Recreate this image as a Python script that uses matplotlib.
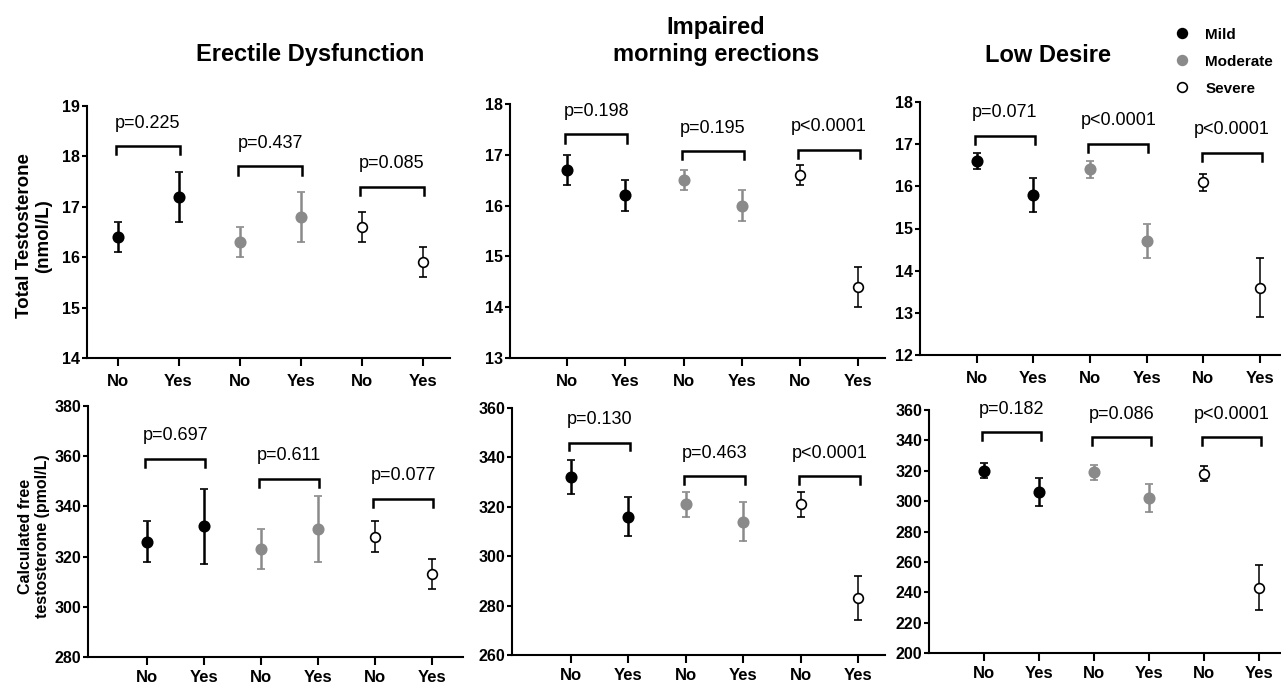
import matplotlib.pyplot as plt
from matplotlib.lines import Line2D

plt.rcParams['font.family'] = ['Liberation Sans', 'DejaVu Sans']

# Severity groups, each with a No / Yes pair
groups = ["Mild", "Moderate", "Severe"]
xlabels = ["No", "Yes", "No", "Yes", "No", "Yes"]
titles = ["Erectile Dysfunction", "Impaired\nmorning erections", "Low Desire"]

# Total testosterone (nmol/L): mean, lower, upper for No/Yes per group
tt_mean = [
    [16.4, 17.2, 16.3, 16.8, 16.6, 15.9],
    [16.7, 16.2, 16.5, 16.0, 16.6, 14.4],
    [16.6, 15.8, 16.4, 14.7, 16.1, 13.6],
]
tt_lo = [
    [16.1, 16.7, 16.0, 16.3, 16.3, 15.6],
    [16.4, 15.9, 16.3, 15.7, 16.4, 14.0],
    [16.4, 15.4, 16.2, 14.3, 15.9, 12.9],
]
tt_hi = [
    [16.7, 17.7, 16.6, 17.3, 16.9, 16.2],
    [17.0, 16.5, 16.7, 16.3, 16.8, 14.8],
    [16.8, 16.2, 16.6, 15.1, 16.3, 14.3],
]
tt_p = [
    ["p=0.225", "p=0.437", "p=0.085"],
    ["p=0.198", "p=0.195", "p<0.0001"],
    ["p=0.071", "p<0.0001", "p<0.0001"],
]
tt_bracket = [
    [18.2, 17.8, 17.4],
    [17.4, 17.07, 17.1],
    [17.2, 17.0, 16.8],
]
tt_ylim = [(14, 19), (13, 18), (12, 18)]

# Calculated free testosterone (pmol/L)
ft_mean = [
    [326, 332, 323, 331, 328, 313],
    [332, 316, 321, 314, 321, 283],
    [320, 306, 319, 302, 318, 243],
]
ft_lo = [
    [318, 317, 315, 318, 322, 307],
    [325, 308, 316, 306, 316, 274],
    [315, 297, 314, 293, 313, 228],
]
ft_hi = [
    [334, 347, 331, 344, 334, 319],
    [339, 324, 326, 322, 326, 292],
    [325, 315, 324, 311, 323, 258],
]
ft_p = [
    ["p=0.697", "p=0.611", "p=0.077"],
    ["p=0.130", "p=0.463", "p<0.0001"],
    ["p=0.182", "p=0.086", "p<0.0001"],
]
ft_bracket = [
    [359, 351, 343],
    [346, 332.5, 332.5],
    [345.5, 342, 342],
]
ft_ylim = [(280, 380), (260, 360), (200, 360)]

# Panel boxes in pixels: left, right, top, bottom ; xlim
W, H = 1281, 685
top_boxes = [(87, 450, 106, 358, (0.5, 6.45)),
             (510, 885, 104, 358, (0.02, 6.46)),
             (920, 1281, 102, 355, (0.0, 6.37))]
bot_boxes = [(88, 463, 406, 657, (-0.03, 6.55)),
             (512, 885, 408, 655, (-0.03, 6.47)),
             (929, 1281, 410, 653, (0.0, 6.4))]

colors = ["black", "#8a8a8a", "black"]
faces = ["black", "#8a8a8a", "white"]
lws = [1.8, 1.8, 1.1]

fig = plt.figure(figsize=(W / 100, H / 100), dpi=100)


def make_axes(box):
    l, r, t, b, xl = box
    ax = fig.add_axes([l / W, 1 - b / H, (r - l) / W, (b - t) / H])
    ax.set_xlim(*xl)
    return ax


def draw_panel(ax, mean, lo, hi, pvals, brackets, ylim, yticks, xpad):
    xs = list(range(1, 7))
    for g in range(3):
        for k in range(2):
            i = 2 * g + k
            ax.errorbar(xs[i], mean[i],
                        yerr=[[mean[i] - lo[i]], [hi[i] - mean[i]]],
                        fmt="o", color=colors[g], mfc=faces[g], mec=colors[g],
                        ms=7.5 if g < 2 else 7, mew=1.2, elinewidth=lws[g],
                        capsize=3, capthick=lws[g], zorder=3)
        x0, x1 = xs[2 * g] - 0.03, xs[2 * g + 1] + 0.03
        yb = brackets[g]
        drop = (ylim[1] - ylim[0]) * 0.032
        ax.plot([x0, x0, x1, x1], [yb - drop, yb, yb, yb - drop],
                color="black", lw=1.8, solid_joinstyle="miter")
        ax.text((x0 + x1) / 2, yb + (ylim[1] - ylim[0]) * 0.058, pvals[g],
                ha="center", va="bottom", fontsize=13)
    ax.set_ylim(*ylim)
    ax.set_yticks(yticks)
    ax.set_xticks(xs)
    ax.set_xticklabels(xlabels)
    ax.spines["top"].set_visible(False)
    ax.spines["right"].set_visible(False)
    ax.spines["left"].set_linewidth(1.5)
    ax.spines["bottom"].set_linewidth(1.5)
    ax.tick_params(axis="x", length=6, width=1.5, pad=xpad, labelsize=12)
    ax.tick_params(axis="y", length=3.5, width=1.5, pad=1.5, labelsize=11.5)
    for lab in ax.get_xticklabels() + ax.get_yticklabels():
        lab.set_fontweight("bold")


for c in range(3):
    ax = make_axes(top_boxes[c])
    lo_, hi_ = tt_ylim[c]
    draw_panel(ax, tt_mean[c], tt_lo[c], tt_hi[c], tt_p[c], tt_bracket[c],
               tt_ylim[c], range(lo_, hi_ + 1), 5.5)
    ax = make_axes(bot_boxes[c])
    lo_, hi_ = ft_ylim[c]
    draw_panel(ax, ft_mean[c], ft_lo[c], ft_hi[c], ft_p[c], ft_bracket[c],
               ft_ylim[c], range(lo_, hi_ + 1, 20), 3.5)

# Column titles
fig.text(310 / W, 1 - 55 / H, titles[0], ha="center", va="center",
         fontsize=17, fontweight="bold")
fig.text(716 / W, 1 - 41 / H, titles[1], ha="center", va="center",
         fontsize=17, fontweight="bold", linespacing=1.18)
fig.text(1048 / W, 1 - 55 / H, titles[2], ha="center", va="center",
         fontsize=17, fontweight="bold")

# Row labels
fig.text(34 / W, 1 - 236 / H, "Total Testosterone\n(nmol/L)", rotation=90,
         ha="center", va="center", fontsize=13.5, fontweight="bold",
         multialignment="center")
fig.text(34 / W, 1 - 536 / H, "Calculated free\ntestosterone (pmol/L)",
         rotation=90, ha="center", va="center", fontsize=11.5,
         fontweight="bold", multialignment="center")

# Legend
handles = [Line2D([], [], marker="o", ls="none", color=colors[g],
                  mfc=faces[g], mec=colors[g], ms=7, mew=1.2)
           for g in range(3)]
leg = fig.legend(handles, groups, loc="upper left",
                 bbox_to_anchor=(1167 / W, 1 - 20 / H), frameon=False,
                 handlelength=1.0, handletextpad=1.0, labelspacing=0.85,
                 borderpad=0, prop={"weight": "bold", "size": 11})

fig.savefig("out.png", dpi=100)
